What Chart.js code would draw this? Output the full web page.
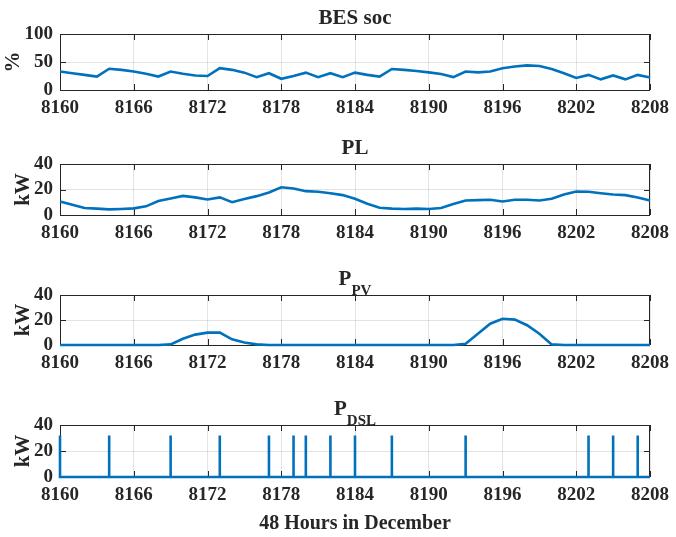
<!DOCTYPE html>
<html>
<head>
<meta charset="utf-8">
<script src="https://cdn.jsdelivr.net/npm/chart.js@4"></script>
<style>
  body { margin: 0; background: #fff; }
  #fig { position: relative; width: 676px; height: 537px; }
  .panel { position: absolute; left: 0; width: 676px; }
</style>
</head>
<body>
<div id="fig">
  <div class="panel" style="top:0px;height:120px"><canvas id="socChart" width="676" height="120"></canvas></div>
  <div class="panel" style="top:130px;height:115px"><canvas id="loadChart" width="676" height="115"></canvas></div>
  <div class="panel" style="top:261px;height:114px"><canvas id="pvChart" width="676" height="114"></canvas></div>
  <div class="panel" style="top:391px;height:146px"><canvas id="dslChart" width="676" height="146"></canvas></div>
</div>
<script>
// hours 8160..8208 (48 hours in December)
const hours = [8160, 8161, 8162, 8163, 8164, 8165, 8166, 8167, 8168, 8169, 8170, 8171, 8172,
  8173, 8174, 8175, 8176, 8177, 8178, 8179, 8180, 8181, 8182, 8183, 8184,
  8185, 8186, 8187, 8188, 8189, 8190, 8191, 8192, 8193, 8194, 8195, 8196,
  8197, 8198, 8199, 8200, 8201, 8202, 8203, 8204, 8205, 8206, 8207, 8208];
const xTicks = [8160, 8166, 8172, 8178, 8184, 8190, 8196, 8202, 8208];

// battery state of charge, %
const besSoc = [33, 30, 27, 24, 38, 36, 33, 29, 24, 33, 29, 26, 25,
  39, 36, 31, 23, 30, 20, 25, 31, 23, 30, 23, 31,
  27, 24, 37.5, 36, 34, 31.5, 28.5, 23, 33, 31.5, 33, 39,
  42, 44, 43, 37.5, 30, 21.5, 27, 19, 26, 19, 27, 22.5];
// load power, kW
const loadPower = [10.6, 8, 5.5, 5, 4.4, 4.7, 5.2, 6.8, 11, 13, 15, 13.8, 12.2,
  13.8, 10, 12.5, 14.8, 17.7, 21.8, 20.8, 18.7, 18.2, 17.1, 15.6, 12.7,
  8.8, 5.7, 5, 4.7, 5, 4.7, 5.5, 8.6, 11.4, 11.7, 12, 10.6,
  12, 12, 11.4, 12.7, 16.1, 18.4, 18.2, 17.1, 16.1, 15.6, 13.8, 11.4];
// PV power, kW
const pvPower = [0, 0, 0, 0, 0, 0, 0, 0, 0, 0.5, 5, 8.3, 9.9,
  9.9, 4.5, 2, 0.5, 0, 0, 0, 0, 0, 0, 0, 0,
  0, 0, 0, 0, 0, 0, 0, 0, 1, 9, 17, 21,
  20.3, 15.8, 9, 0.5, 0, 0, 0, 0, 0, 0, 0, 0];
// diesel generator start pulses
const dslHours = [8160, 8164, 8169, 8173, 8177, 8179, 8180, 8182, 8184, 8187, 8193, 8203, 8205, 8207];
const dslPower = [32, 32, 32, 32, 32, 32, 32, 32, 32, 32, 32, 32, 32, 32];

const socTicks = [0, 50, 100];
const kwTicks = [0, 20, 40];

const textColor = '#262626';
const lineBlue = '#0072BD';
const serif = '"Liberation Serif", "Times New Roman", serif';

Chart.defaults.font.family = serif;
Chart.defaults.font.weight = 'bold';
Chart.defaults.color = textColor;

// MATLAB style box with inward ticks
const frame = {
  id: 'frame',
  beforeDatasetsDraw(chart) {
    const { ctx, chartArea: a, scales: { x, y } } = chart;
    ctx.save();
    ctx.strokeStyle = textColor;
    ctx.lineWidth = 1;
    ctx.beginPath();
    x.ticks.forEach(t => {
      const px = Math.round(x.getPixelForValue(t.value)) + 0.5;
      ctx.moveTo(px, a.bottom); ctx.lineTo(px, a.bottom - 6);
      ctx.moveTo(px, a.top); ctx.lineTo(px, a.top + 6);
    });
    y.ticks.forEach(t => {
      const py = Math.round(y.getPixelForValue(t.value)) + 0.5;
      ctx.moveTo(a.left, py); ctx.lineTo(a.left + 6, py);
      ctx.moveTo(a.right, py); ctx.lineTo(a.right - 6, py);
    });
    ctx.stroke();
    ctx.strokeRect(a.left + 0.5, a.top + 0.5, a.right - a.left - 1, a.bottom - a.top);
    ctx.restore();
  }
};

// title with optional subscript
const heading = {
  id: 'heading',
  afterDraw(chart, args, opts) {
    const { ctx, chartArea: a } = chart;
    const mainFont = 'bold 21px ' + serif;
    const subFont = 'bold 15px ' + serif;
    ctx.save();
    ctx.fillStyle = textColor;
    ctx.textAlign = 'left';
    ctx.textBaseline = 'alphabetic';
    ctx.font = mainFont;
    const w1 = ctx.measureText(opts.text).width;
    ctx.font = subFont;
    const w2 = opts.sub ? ctx.measureText(opts.sub).width : 0;
    const x0 = (a.left + a.right) / 2 - (w1 + w2) / 2;
    const base = a.top - 10;
    ctx.font = mainFont;
    ctx.fillText(opts.text, x0, base);
    if (opts.sub) {
      ctx.font = subFont;
      ctx.fillText(opts.sub, x0 + w1, base + 10);
    }
    ctx.restore();
  }
};

function makePanel(id, points, yMax, yTicks, yTitle, yTitlePad, title, sub, xTitle) {
  return new Chart(document.getElementById(id), {
    type: 'line',
    data: {
      datasets: [{
        data: points,
        borderColor: lineBlue,
        borderWidth: 2.6,
        pointRadius: 0,
        tension: 0,
        clip: false
      }]
    },
    options: {
      responsive: false,
      animation: false,
      devicePixelRatio: 1,
      layout: { padding: { top: 34, right: 20, left: 0, bottom: 0 } },
      plugins: {
        legend: { display: false },
        tooltip: { enabled: false },
        heading: { text: title, sub: sub }
      },
      scales: {
        x: {
          type: 'linear',
          min: 8160,
          max: 8208,
          afterBuildTicks: axis => { axis.ticks = xTicks.map(v => ({ value: v })); },
          afterFit: axis => { axis.height = xTitle ? 60 : 30; },
          grid: { color: 'rgba(0,0,0,0.11)', drawTicks: false },
          border: { display: false },
          ticks: {
            font: { size: 19, weight: 'bold' },
            padding: 7,
            maxRotation: 0,
            autoSkip: false,
            callback: v => String(v)
          },
          title: {
            display: !!xTitle,
            text: xTitle || '',
            font: { size: 20, weight: 'bold' },
            padding: { top: 0, bottom: 1 }
          }
        },
        y: {
          min: 0,
          max: yMax,
          afterBuildTicks: axis => { axis.ticks = yTicks.map(v => ({ value: v })); },
          afterFit: axis => { axis.width = 60; },
          grid: { color: 'rgba(0,0,0,0.11)', drawTicks: false },
          border: { display: false },
          ticks: {
            font: { size: 19, weight: 'bold' },
            padding: 7,
            autoSkip: false,
            callback: v => String(v)
          },
          title: {
            display: true,
            text: yTitle,
            font: { size: 21, weight: 'bold' },
            padding: { top: yTitlePad, bottom: 0 }
          }
        }
      }
    },
    plugins: [frame, heading]
  });
}

const socPoints = hours.map((h, i) => ({ x: h, y: besSoc[i] }));
const loadPoints = hours.map((h, i) => ({ x: h, y: loadPower[i] }));
const pvPoints = hours.map((h, i) => ({ x: h, y: pvPower[i] }));

// stem-like diesel trace: zero baseline with vertical pulses
const dslPoints = [];
hours.forEach(h => {
  const k = dslHours.indexOf(h);
  if (k >= 0) {
    dslPoints.push({ x: h, y: 0 }, { x: h, y: dslPower[k] }, { x: h, y: 0 });
  } else {
    dslPoints.push({ x: h, y: 0 });
  }
});

makePanel('socChart', socPoints, 100, socTicks, '%', 1, 'BES soc', '', '');
makePanel('loadChart', loadPoints, 40, kwTicks, 'kW', 11, 'PL', '', '');
makePanel('pvChart', pvPoints, 40, kwTicks, 'kW', 11, 'P', 'PV', '');
makePanel('dslChart', dslPoints, 40, kwTicks, 'kW', 11, 'P', 'DSL', '48 Hours in December');
</script>
</body>
</html>
